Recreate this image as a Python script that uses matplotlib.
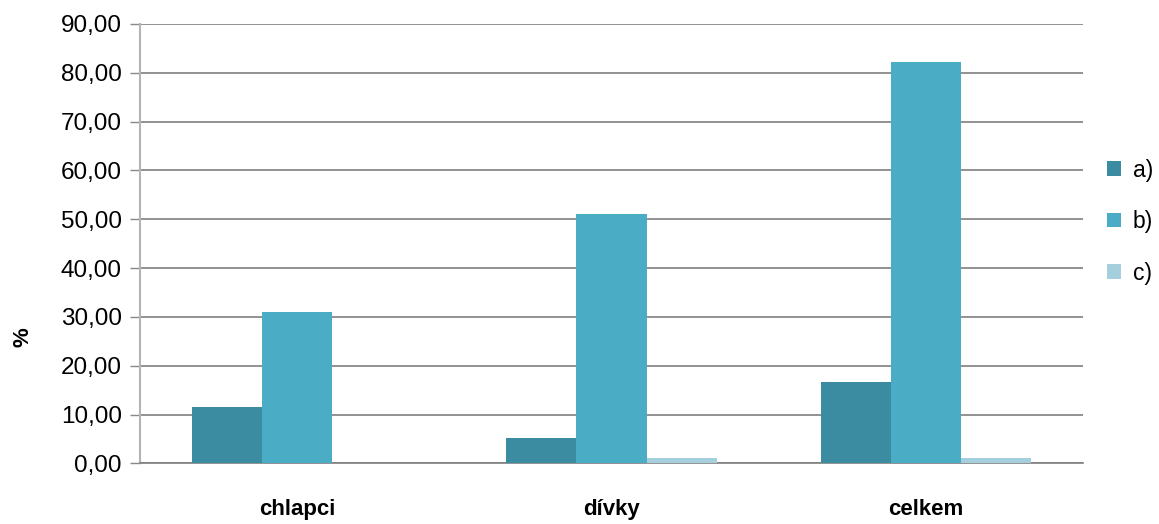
import numpy as np
import matplotlib.pyplot as plt
from matplotlib.ticker import FuncFormatter

plt.rcParams['font.family'] = ['Liberation Sans', 'DejaVu Sans']

categories = ['chlapci', 'dívky', 'celkem']
series_names = ['a)', 'b)', 'c)']
val_a = [11.6, 5.2, 16.7]
val_b = [31.0, 51.1, 82.2]
val_c = [0.0, 1.1, 1.1]
colors = ['#3b8ca0', '#4bacc6', '#a5cfdc']

fig = plt.figure(figsize=(11.59, 5.24), dpi=100)
ax = fig.add_axes([0.1208, 0.1158, 0.8136, 0.8384])

x = np.arange(len(categories))
w = 0.223
for i, (vals, name) in enumerate(zip([val_a, val_b, val_c], series_names)):
    ax.bar(x + (i - 1) * w, vals, w, color=colors[i], label=name, zorder=3)

ax.set_xlim(-0.5, len(categories) - 0.5)
ax.set_ylim(0, 90)
ax.set_yticks(np.arange(0, 91, 10))
ax.yaxis.set_major_formatter(FuncFormatter(lambda v, p: f'{v:.2f}'.replace('.', ',')))
ax.tick_params(axis='y', labelsize=17.5, length=7, color='#888888', pad=6, width=1)
ax.tick_params(axis='x', length=0, pad=26)
ax.set_xticks(x)
ax.set_xticklabels(categories, fontsize=16, fontweight='bold')

ax.grid(axis='y', color='#7f7f7f', linewidth=1.2, zorder=0)
for s in ['top', 'right']:
    ax.spines[s].set_visible(False)
ax.spines['left'].set_color('#b4b4b4')
ax.spines['left'].set_linewidth(1.5)
ax.spines['bottom'].set_color('#7f7f7f')
ax.spines['bottom'].set_linewidth(1.2)

ax.set_ylabel('%', fontsize=16, fontweight='bold')
ax.yaxis.set_label_coords(-0.113, 0.2875)

ax.legend(loc='center left', bbox_to_anchor=(1.026, 0.55), frameon=False,
          borderpad=0, borderaxespad=0,
          fontsize=16.5, handlelength=0.6, handleheight=0.6, handletextpad=0.5,
          labelspacing=1.25)

fig.savefig('out.png', dpi=100)
